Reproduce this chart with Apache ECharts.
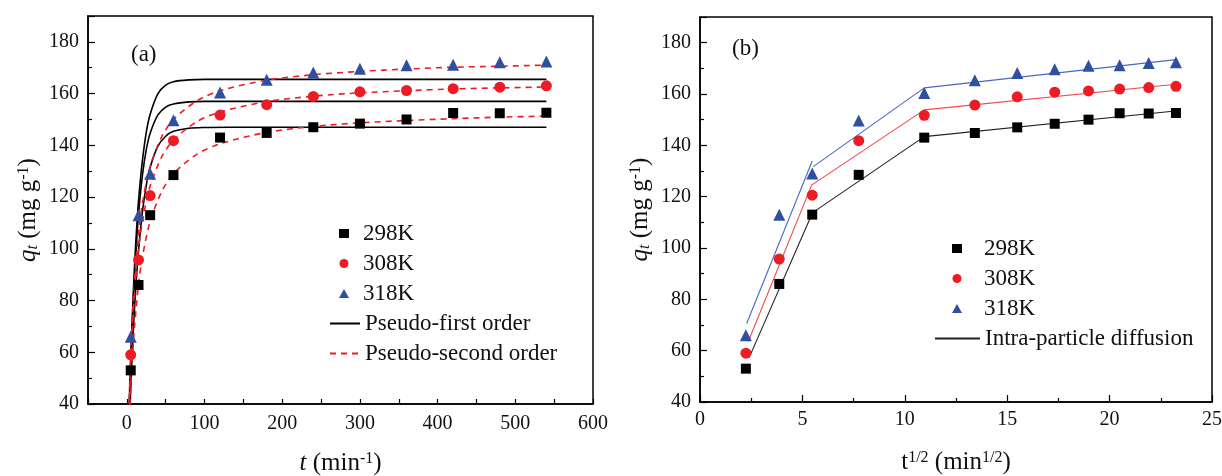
<!DOCTYPE html>
<html lang="en">
<head>
<meta charset="UTF-8">
<script src="https://cdn.jsdelivr.net/npm/echarts@6/dist/echarts.min.js"></script>
<title>Adsorption kinetics</title>
<style>
  html, body { margin: 0; padding: 0; background: #fff; }
</style>
</head>
<body>
<div id="main" style="width:1222px;height:476px;"></div>
<script>
// contact time (min) and its square root
var tMin = [5, 15, 30, 60, 120, 180, 240, 300, 360, 420, 480, 540];
var tSqrt = [2.24, 3.87, 5.48, 7.75, 10.95, 13.42, 15.49, 17.32, 18.97, 20.49, 21.91, 23.24];

// measured uptake q_t (mg/g)
var q298 = [53, 86, 113, 128.5, 143, 144.8, 147, 148.4, 150, 152.5, 152.4, 152.6];
var q308 = [59, 95.7, 120.6, 141.8, 151.7, 155.7, 158.9, 160.7, 161.2, 161.9, 162.5, 163];
var q318 = [66, 113, 129, 149.7, 160.4, 165.4, 168.2, 169.6, 171, 171.2, 172.1, 172.4];

// fitted curves
var pfoT = [3, 5, 8, 10, 13, 16, 20, 25, 30, 40, 50, 60, 80, 100, 130, 180, 300, 540];
var pfo298 = [29.6, 46, 66.3, 77.6, 91.6, 102.7, 114.2, 124.5, 131.5, 139.7, 143.5, 145.4, 146.6, 146.9, 147, 147, 147, 147];
var pfo308 = [35.3, 54.4, 77.5, 89.9, 105, 116.7, 128.3, 138.3, 144.7, 151.8, 154.8, 156, 156.8, 157, 157, 157, 157, 157];
var pfo318 = [39.2, 58, 81, 94, 110, 122, 134, 145, 152, 160, 163.3, 164.6, 165.3, 165.5, 165.5, 165.5, 165.5, 165.5];

var psoT = [3, 5, 8, 10, 15, 20, 30, 45, 60, 90, 120, 180, 240, 300, 360, 420, 480, 540];
var pso298 = [31.1, 45.7, 62.1, 70.5, 86.1, 96.8, 110.6, 122.2, 129, 136.5, 140.6, 145, 147.3, 148.7, 149.6, 150.3, 150.9, 151.3];
var pso308 = [38.3, 55.3, 73.7, 82.9, 99.5, 110.5, 124.3, 135.6, 142, 149.1, 152.9, 156.9, 159, 160.3, 161.1, 161.8, 162.2, 162.6];
var pso318 = [41.4, 59.5, 79, 88.7, 106, 117.5, 131.8, 143.4, 150, 157.2, 161.1, 165.2, 167.3, 168.6, 169.5, 170.2, 170.6, 171];

// intra-particle diffusion lines
var ipd298 = [[2.4, 57.3], [5.5, 113.8], [10.95, 143.4], [23.2, 153.4]];
var ipd308 = [[2.36, 63.6], [5.45, 124.5], [10.95, 153.8], [23.24, 163.8]];
var ipd318a = [[2.28, 70.6], [5.48, 133.9]];
var ipd318b = [[5.53, 131.7], [10.95, 162.4], [23.24, 173.4]];

var FONT = 'Liberation Serif';
var BLACK = '#000000', RED = '#ed1c24', BLUE = '#2f4fa0';
var INK = '#111';

function zip(xs, ys) {
  return xs.map(function (x, i) { return [x, ys[i]]; });
}

var titleRich = {
  it: { fontFamily: FONT, fontSize: 25, fontStyle: 'italic', color: INK },
  sub: { fontFamily: FONT, fontSize: 16, fontStyle: 'italic', color: INK, verticalAlign: 'bottom', padding: [9, 0, 0, 0] },
  sup: { fontFamily: FONT, fontSize: 16, color: INK, verticalAlign: 'top', padding: [0, 0, 9, 0] },
  rm: { fontFamily: FONT, fontSize: 25, color: INK }
};

function yAxisFor(gridIndex) {
  return {
    type: 'value', gridIndex: gridIndex, min: 40, max: 190, interval: 20,
    name: '{it|q}{sub|t}{rm| (mg g}{sup|-1}{rm|)}',
    nameLocation: 'middle', nameGap: 47, nameRotate: 90,
    nameTextStyle: { rich: titleRich },
    axisLine: { show: true, onZero: false, lineStyle: { color: BLACK, width: 1.5 } },
    axisTick: { inside: true, length: 7, lineStyle: { color: BLACK, width: 1.2 } },
    minorTick: { show: true, splitNumber: 2, length: 4, lineStyle: { color: BLACK, width: 1.2 } },
    axisLabel: { fontFamily: FONT, fontSize: 20, color: INK, margin: 9, showMaxLabel: false },
    splitLine: { show: false }
  };
}

var axisLineStyle = { show: true, onZero: false, lineStyle: { color: BLACK, width: 1.5 } };
var legendText = { fontFamily: FONT, fontSize: 23, color: INK, lineHeight: 23 };

function legendBox(left, top, w, pad, data) {
  return {
    orient: 'vertical', left: left, top: top, itemWidth: w, itemHeight: 9, itemGap: 7,
    padding: 0, selectedMode: false,
    textStyle: Object.assign({ padding: [0, 0, 0, pad] }, legendText),
    data: data
  };
}

var option = {
  animation: false,
  backgroundColor: '#fff',
  textStyle: { fontFamily: FONT },
  grid: [
    { left: 88, top: 16, width: 505, height: 388, show: true, borderColor: BLACK, borderWidth: 1.5,
      containLabel: false, outerBoundsMode: 'none' },
    { left: 700, top: 17, width: 512, height: 385, show: true, borderColor: BLACK, borderWidth: 1.5,
      containLabel: false, outerBoundsMode: 'none' }
  ],
  xAxis: [
    {
      type: 'value', gridIndex: 0, min: -50, max: 600, interval: 50,
      name: '{it|t}{rm| (min}{sup|-1}{rm|)}',
      nameLocation: 'middle', nameGap: 47,
      nameTextStyle: { rich: titleRich },
      axisLine: axisLineStyle,
      axisTick: { inside: true, length: 5, lineStyle: { color: BLACK, width: 1.2 } },
      axisLabel: {
        fontFamily: FONT, fontSize: 20, color: INK, margin: 10,
        formatter: function (v) { return v % 100 === 0 ? String(v) : ''; }
      },
      splitLine: { show: false }
    },
    {
      type: 'value', gridIndex: 1, min: 0, max: 25, interval: 5,
      name: '{rm|t}{sup|1/2}{rm| (min}{sup|1/2}{rm|)}',
      nameLocation: 'middle', nameGap: 48,
      nameTextStyle: { rich: titleRich },
      axisLine: axisLineStyle,
      axisTick: { inside: true, length: 7, lineStyle: { color: BLACK, width: 1.2 } },
      minorTick: { show: true, splitNumber: 2, length: 4, lineStyle: { color: BLACK, width: 1.2 } },
      axisLabel: { fontFamily: FONT, fontSize: 20, color: INK, margin: 8 },
      splitLine: { show: false }
    }
  ],
  yAxis: [yAxisFor(0), yAxisFor(1)],
  legend: [
    legendBox(339, 222, 10, 9, ['298K', '308K', '318K']),
    legendBox(329, 312, 30, 0, [
      { name: 'Pseudo-first order', itemStyle: { opacity: 0 } },
      { name: 'Pseudo-second order', itemStyle: { opacity: 0 } }
    ]),
    legendBox(952, 237, 10, 17, ['298K', '308K', '318K']),
    legendBox(934, 327, 45, 0, [
      { name: 'Intra-particle diffusion', itemStyle: { opacity: 0 } }
    ])
  ],
  graphic: [
    { type: 'text', left: 131, top: 43, style: { text: '(a)', font: '23px "Liberation Serif"', fill: INK } },
    { type: 'text', left: 732, top: 37, style: { text: '(b)', font: '23px "Liberation Serif"', fill: INK } }
  ],
  series: []
};

function fitLine(name, xi, data, color, width, dashed, smooth) {
  return {
    name: name, type: 'line', xAxisIndex: xi, yAxisIndex: xi, data: data,
    smooth: smooth, symbol: 'none', z: 2,
    lineStyle: { color: color, width: width, type: dashed ? [6, 5] : 'solid' },
    itemStyle: { color: color }
  };
}

function dots(name, xi, data, symbol, size, color) {
  return {
    name: name, type: 'scatter', xAxisIndex: xi, yAxisIndex: xi, data: data,
    symbol: symbol, symbolSize: size, z: 3,
    itemStyle: { color: color, opacity: 1 }
  };
}

// panel (a)
option.series.push(
  fitLine('Pseudo-first order', 0, zip(pfoT, pfo298), BLACK, 1.6, false, 0.3),
  fitLine('Pseudo-first order', 0, zip(pfoT, pfo308), BLACK, 1.6, false, 0.3),
  fitLine('Pseudo-first order', 0, zip(pfoT, pfo318), BLACK, 1.6, false, 0.3),
  fitLine('Pseudo-second order', 0, zip(psoT, pso298), RED, 1.6, true, 0.3),
  fitLine('Pseudo-second order', 0, zip(psoT, pso308), RED, 1.6, true, 0.3),
  fitLine('Pseudo-second order', 0, zip(psoT, pso318), RED, 1.6, true, 0.3),
  dots('298K', 0, zip(tMin, q298), 'rect', 10, BLACK),
  dots('308K', 0, zip(tMin, q308), 'circle', 11, RED),
  dots('318K', 0, zip(tMin, q318), 'triangle', 12, BLUE)
);

// panel (b)
option.series.push(
  fitLine('Intra-particle diffusion', 1, ipd298, '#222222', 1.1, false, false),
  fitLine('ipd 308K', 1, ipd308, '#f04a4a', 1.1, false, false),
  fitLine('ipd 318K a', 1, ipd318a, '#4a67c0', 1.1, false, false),
  fitLine('ipd 318K b', 1, ipd318b, '#4a67c0', 1.1, false, false),
  dots('298K', 1, zip(tSqrt, q298), 'rect', 10, BLACK),
  dots('308K', 1, zip(tSqrt, q308), 'circle', 11, RED),
  dots('318K', 1, zip(tSqrt, q318), 'triangle', 12, BLUE)
);

var chart = echarts.init(document.getElementById('main'));
chart.setOption(option);
</script>
</body>
</html>
